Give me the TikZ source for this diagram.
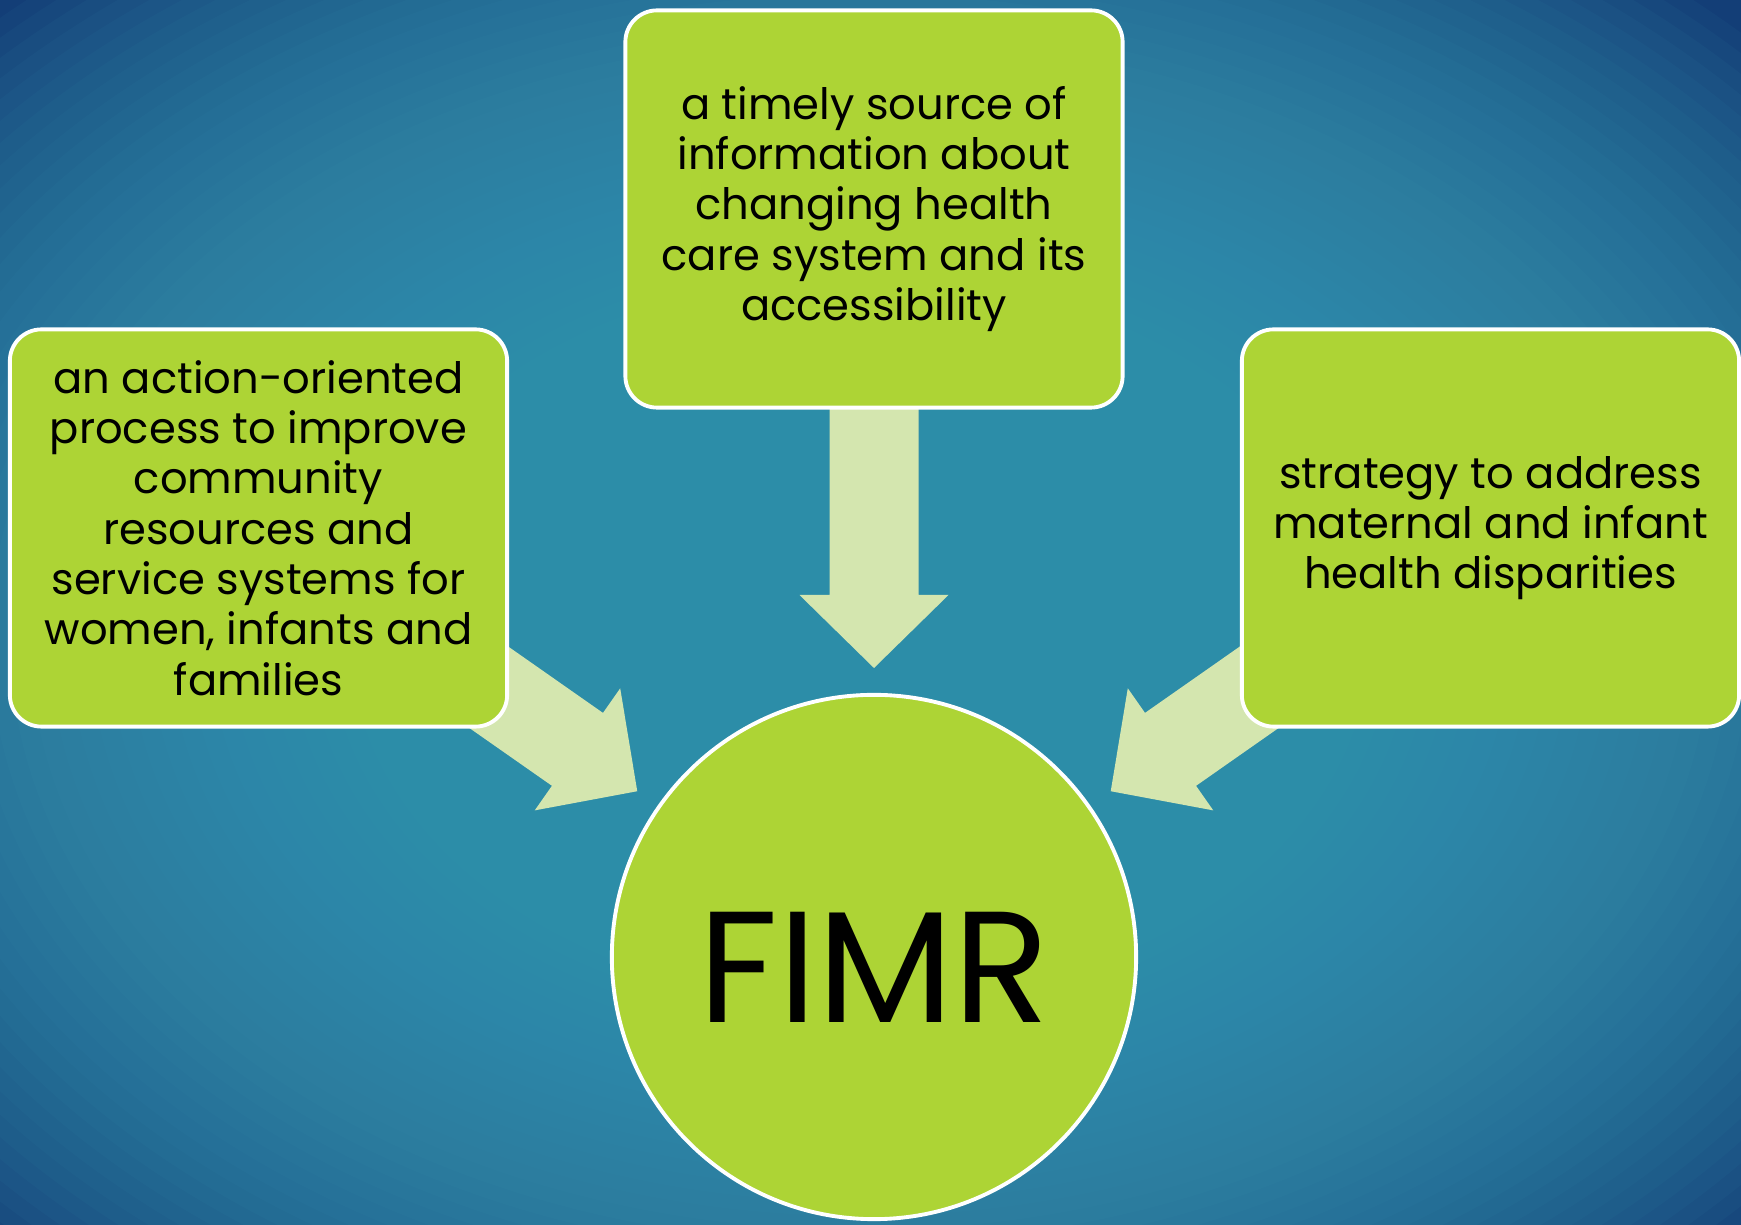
\documentclass[tikz,border=0pt]{standalone}
\usepackage{fontspec}
\setmainfont{Poppins}
\usetikzlibrary{positioning,calc,shapes.geometric}
\definecolor{bgdark}{HTML}{133E77}
\definecolor{bgmid}{HTML}{3C9DB8}
\definecolor{limefill}{HTML}{ADD435}
\definecolor{palearrow}{HTML}{D4E6AF}
\tikzset{topic/.style={draw=white, line width=1.1pt, fill=limefill, rounded corners=9pt, minimum width=4.97cm, minimum height=3.97cm, inner sep=0pt, align=center, font=\fontsize{12.3}{14.3}\selectfont}}
\tikzset{hub/.style={circle, draw=white, line width=1.1pt, fill=limefill, minimum size=5.24cm, inner sep=0pt, font=\fontsize{45}{45}\selectfont}}
\tikzset{glow/.style={fill=bgmid, fill opacity=0.06}}
\tikzset{fatarrow/.pic={\fill[palearrow] (0,0) -- (-73,74.5) -- (-73,44.5) -- (-300,44.5) -- (-300,-44.5) -- (-73,-44.5) -- (-73,-74.5) -- cycle;}}
\begin{document}
\begin{tikzpicture}[x=0.01cm, y=0.01cm]
    \useasboundingbox (0,0) rectangle (1741,-1225);
    % background: dark blue, lighter toward the middle
    \begin{scope}
        \clip (0,0) rectangle (1741,-1225);
        \fill[bgdark] (0,0) rectangle (1741,-1225);
        \foreach \i in {0,...,59}
            \fill[glow] (860,-640) ellipse ({1230-\i*20} and {870-\i*14});
    \end{scope}
    \node[hub] (fimr) at (874,-957) {\raisebox{1.5ex}{}FIMR};
    % arrows first, the boxes hide their tails
    \foreach \a in {90,145,35}
        \pic[rotate=\a+180] at ($(fimr.center)+(\a:289)$) {fatarrow};
    \node[topic] (timely) at (874,-209)
        {a timely source of\\information about\\changing health\\care system and its\\accessibility};
    \node[topic] (action) at (258.5,-528)
        {an action-oriented\\process to improve\\community\\resources and\\service systems for\\women, infants and\\families};
    \node[topic] (strategy) at (1490.5,-528)
        {strategy to address\\maternal and infant\\health disparities};
\end{tikzpicture}
\end{document}
